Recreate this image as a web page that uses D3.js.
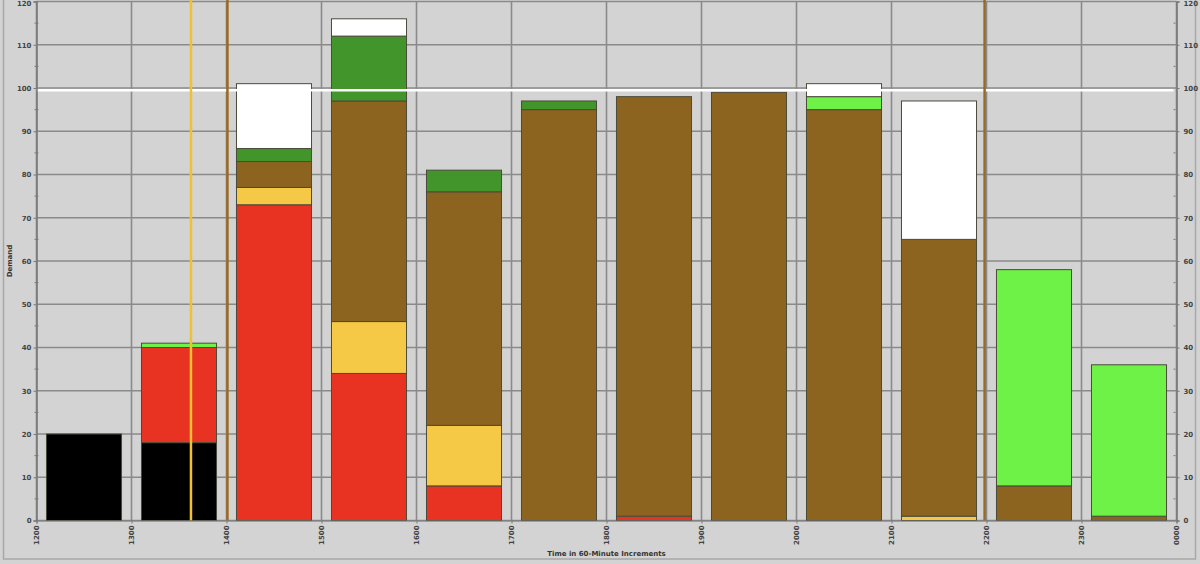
<!DOCTYPE html>
<html><head><meta charset="utf-8">
<script src="https://cdn.jsdelivr.net/npm/d3@7"></script>
<style>body{margin:0;background:#d3d3d3;}svg{display:block;}</style>
</head><body>
<script>
// ---- data ----
const hours = ["1200","1300","1400","1500","1600","1700","1800","1900","2000","2100","2200","2300"];
const xTickLabels = ["1200","1300","1400","1500","1600","1700","1800","1900","2000","2100","2200","2300","0000"];
const yTicks = [0,10,20,30,40,50,60,70,80,90,100,110,120];
const black      = [20,18, 0, 0, 0, 0, 0, 0, 0, 0, 0, 0];
const red        = [ 0,22,73,34, 8, 0, 1, 0, 0, 0, 0, 0];
const yellow     = [ 0, 0, 4,12,14, 0, 0, 0, 0, 1, 0, 0];
const brown      = [ 0, 0, 6,51,54,95,97,99,95,64, 8, 1];
const darkGreen  = [ 0, 0, 3,15, 5, 2, 0, 0, 0, 0, 0, 0];
const lightGreen = [ 0, 1, 0, 0, 0, 0, 0, 0, 3, 0,50,35];
const white      = [ 0, 0,15, 4, 0, 0, 0, 0, 3,32, 0, 0];
const capacity = 99.5;               // white horizontal line
const markerHours = [1.626, 2.01, 9.98]; // hours after 1200
const markerNames = ["yellowMark","brownMark","brownMark"];

const seriesNames = ["black","red","yellow","brown","darkGreen","lightGreen","white"];
const seriesData = {black,red,yellow,brown,darkGreen,lightGreen,white};
const colors = {black:"#000000",red:"#e83222",yellow:"#f5c845",brown:"#8c6420",
  darkGreen:"#41952b",lightGreen:"#6ef248",white:"#ffffff",yellowMark:"#f2c030",brownMark:"#9a6a22"};

// ---- layout ----
const W=1200,H=564;
const L=36.5,R=1176.5,T=1.5,B=520.5;
const svg=d3.select("body").append("svg").attr("width",W).attr("height",H);
svg.append("rect").attr("x",0).attr("y",0).attr("width",W).attr("height",H).attr("fill","#d3d3d3");
svg.append("rect").attr("x",3.5).attr("y",-5).attr("width",1192).attr("height",564)
  .attr("fill","none").attr("stroke","#a8a8a8").attr("stroke-width",1.5);

const x=d3.scaleLinear().domain([0,12]).range([L,R]);
const xb=d3.scaleBand().domain(hours).range([L,R]).paddingInner(0.21).paddingOuter(0.105);
const y=d3.scaleLinear().domain([0,120]).range([B,T]);

// grid
const g=svg.append("g");
g.selectAll(".hg").data(yTicks).join("line").attr("x1",L).attr("x2",R)
  .attr("y1",d=>y(d)).attr("y2",d=>y(d)).attr("stroke","#8a8a8a").attr("stroke-width",1.6);
g.selectAll(".vg").data(d3.range(13)).join("line").attr("y1",T).attr("y2",B)
  .attr("x1",d=>x(d)).attr("x2",d=>x(d)).attr("stroke","#8a8a8a").attr("stroke-width",1.6);

// stacked bars
const rows=hours.map((h,i)=>{const o={h};seriesNames.forEach(s=>o[s]=seriesData[s][i]);return o;});
const stack=d3.stack().keys(seriesNames)(rows);
stack.forEach(layer=>{
  svg.append("g").selectAll("rect").data(layer.filter(d=>d[1]-d[0]>0)).join("rect")
    .attr("x",d=>xb(d.data.h)).attr("width",xb.bandwidth())
    .attr("y",d=>y(d[1])).attr("height",d=>y(d[0])-y(d[1]))
    .attr("fill",colors[layer.key]).attr("stroke","#4a4a3a").attr("stroke-width",1);
});

// capacity line
svg.append("line").attr("x1",L).attr("x2",R-3).attr("y1",y(capacity)).attr("y2",y(capacity))
  .attr("stroke","#ffffff").attr("stroke-width",2.5);

// marker lines
svg.selectAll(".mk").data(markerHours).join("line")
  .attr("x1",d=>x(d)).attr("x2",d=>x(d)).attr("y1",0).attr("y2",B)
  .attr("stroke",(d,i)=>colors[markerNames[i]]).attr("stroke-width",2.5);

// axes
const font="DejaVu Sans";
const axL=d3.axisLeft(y).tickValues(yTicks).tickSize(3).tickPadding(2);
const axR=d3.axisRight(y).tickValues(yTicks).tickSize(3).tickPadding(4);
const gl=svg.append("g").attr("transform",`translate(${L},0)`).call(axL);
const gr=svg.append("g").attr("transform",`translate(${R},0)`).call(axR);
const minor=d3.range(5,120,10);
[gl,gr].forEach((ga,k)=>{
  ga.select(".domain").attr("stroke","#7a7a7a").attr("stroke-width",1.6);
  ga.selectAll(".tick line").attr("stroke","#7a7a7a");
  ga.selectAll("text").attr("font-family",font).attr("font-size",7).attr("font-weight","bold").attr("fill","#444");
  ga.selectAll(".mn").data(minor).join("line").attr("x1",k?-3:-2).attr("x2",k?-1:2)
    .attr("y1",d=>y(d)).attr("y2",d=>y(d)).attr("stroke","#7a7a7a");
});
// keep the top labels inside the picture
[gl,gr].forEach(ga=>ga.selectAll(".tick").filter(d=>d===120).select("text").attr("dy","0.6em"));
const axB=d3.axisBottom(x).tickValues(d3.range(13)).tickFormat((d,i)=>xTickLabels[i]).tickSize(3);
const gb=svg.append("g").attr("transform",`translate(0,${B})`).call(axB);
gb.select(".domain").attr("stroke","#7a7a7a");
gb.selectAll(".tick line").attr("stroke","#7a7a7a");
gb.selectAll("text").attr("font-family",font).attr("font-size",7).attr("font-weight","bold").attr("fill","#444")
  .attr("transform","rotate(-90)").attr("text-anchor","end").attr("x",-5).attr("y",0).attr("dy","0.35em");

// titles
svg.append("text").attr("x",(L+R)/2).attr("y",556).attr("text-anchor","middle")
  .attr("font-family",font).attr("font-size",7).attr("font-weight","bold").attr("fill","#333")
  .text("Time in 60-Minute Increments");
svg.append("text").attr("transform","translate(12,261) rotate(-90)").attr("text-anchor","middle")
  .attr("font-family",font).attr("font-size",7).attr("font-weight","bold").attr("fill","#333")
  .text("Demand");
</script>
</body></html>
